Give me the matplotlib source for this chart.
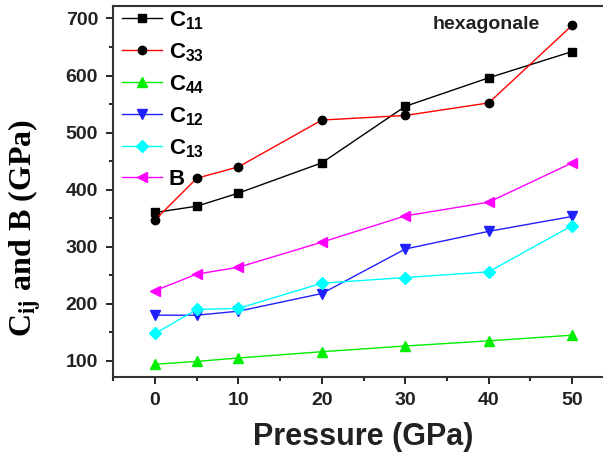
import matplotlib.pyplot as plt
from matplotlib.ticker import MultipleLocator
from matplotlib.font_manager import FontProperties

# Elastic constants and bulk modulus vs pressure (GPa)
pressure = [0, 5, 10, 20, 30, 40, 50]
c11 = [360, 371, 394, 447, 546, 596, 642]
c33 = [347, 420, 440, 522, 530, 552, 688]
c44 = [94, 99, 105, 116, 126, 135, 145]
c12 = [180, 180, 187, 218, 296, 327, 353]
c13 = [148, 190, 192, 236, 246, 256, 337]
bulk = [223, 252, 264, 308, 354, 378, 447]

series = [
    (c11, r'$\mathbf{C_{11}}$', 'black', 's', 'black'),
    (c33, r'$\mathbf{C_{33}}$', 'red', 'o', 'black'),
    (c44, r'$\mathbf{C_{44}}$', '#00ee00', '^', '#00ee00'),
    (c12, r'$\mathbf{C_{12}}$', '#2020ff', 'v', '#2020ff'),
    (c13, r'$\mathbf{C_{13}}$', '#00ffff', 'D', '#00ffff'),
    (bulk, 'B', '#ff00ff', '<', '#ff00ff'),
]

plt.rcParams['font.family'] = ['Liberation Sans', 'DejaVu Sans']
plt.rcParams['mathtext.fontset'] = 'custom'
plt.rcParams['mathtext.bf'] = 'Liberation Sans:bold'
plt.rcParams['mathtext.rm'] = 'Liberation Sans'

fig = plt.figure(figsize=(6.03, 4.54), dpi=100)
ax = fig.add_axes([0.188, 0.170, 0.83, 0.817])

for vals, label, lc, mk, mc in series:
    ms = 6 if mk in ('s', 'o', 'D') else 7
    ax.plot(pressure, vals, color=lc, lw=1, marker=mk, markersize=ms,
            markerfacecolor=mc, markeredgecolor=mc, label=label)

ax.set_xlim(-5, 55)
ax.set_ylim(72, 722)
ax.xaxis.set_major_locator(MultipleLocator(10))
ax.xaxis.set_minor_locator(MultipleLocator(5))
ax.yaxis.set_major_locator(MultipleLocator(100))
ax.yaxis.set_minor_locator(MultipleLocator(50))
ax.tick_params(which='major', direction='out', length=5, width=1.2,
               labelsize=14, pad=6)
ax.tick_params(which='minor', direction='out', length=3, width=1.2)
for lab in ax.get_xticklabels() + ax.get_yticklabels():
    lab.set_fontweight('bold')
    lab.set_color('#222222')
for sp in ax.spines.values():
    sp.set_linewidth(1.5)
    sp.set_color('#333333')

ax.set_xlabel('Pressure (GPa)', fontsize=22, fontweight='bold', labelpad=9,
              color='#222222')
ax.set_ylabel(r'C$_{\mathbf{ij}}$ and B (GPa)', fontsize=23, fontweight='bold',
              family='Liberation Serif', math_fontfamily='stix')
ax.yaxis.set_label_coords(-0.138, 0.40)

ax.text(0.638, 0.972, 'hexagonale', transform=ax.transAxes, fontsize=14,
        fontweight='bold', color='#222222', va='top', ha='left')

legend_font = FontProperties(family='Liberation Sans', weight='bold', size=16)
ax.legend(loc='upper left', frameon=False, prop=legend_font, handlelength=1.8,
          labelspacing=0.42, borderaxespad=0.0, handletextpad=0.3,
          bbox_to_anchor=(0.0, 1.015))

fig.savefig('out.png', dpi=100)
